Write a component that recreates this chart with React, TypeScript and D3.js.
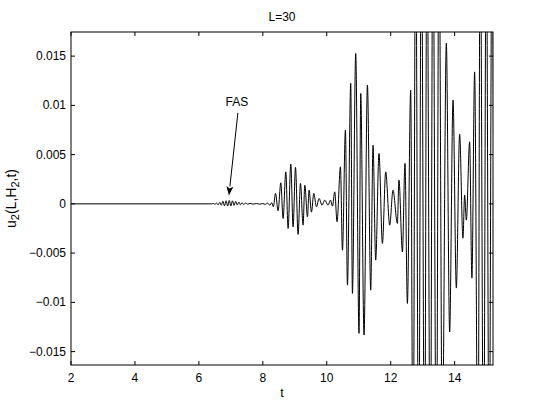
import * as d3 from "d3";
import { useEffect, useRef } from "react";

const xTicks = [2, 4, 6, 8, 10, 12, 14];
const yTicks = [-0.015, -0.01, -0.005, 0, 0.005, 0.01, 0.015];
const yTickLabels = ["\u22120.015", "\u22120.01", "\u22120.005", "0", "0.005", "0.01", "0.015"];

// signal (t, u)
const quietT = [2, 6.4];
const quietU = [0, 0];

const fasT = [6.45, 6.5, 6.55, 6.6, 6.65, 6.7, 6.75, 6.8, 6.85, 6.9, 6.95, 7.0, 7.05, 7.1, 7.15, 7.2, 7.25, 7.3, 7.35, 7.4, 7.46, 7.53, 7.6, 7.7, 7.8, 7.9, 8.0, 8.08, 8.15, 8.22, 8.28, 8.33];
const fasU = [0.00004, -0.00005, 0.00008, -0.0001, 0.00016, -0.00014, 0.00026, -0.0002, 0.00032, -0.00022, 0.00035, -0.0002, 0.00031, -0.00016, 0.00025, -0.00012, 0.00018, -0.00009, 0.00012, -0.00006, 0.00008, -0.00004, 0.00005, -0.00003, 0.00004, -0.00003, 0.00003, -0.00005, 0.00008, -0.00014, 0.00012, -0.0003];

const packet1T = [8.397, 8.478, 8.563, 8.634, 8.719, 8.791, 8.875, 8.947, 9.022, 9.103, 9.178, 9.259, 9.313, 9.397, 9.447, 9.522, 9.594, 9.678, 9.759, 9.853, 9.938, 10.041, 10.116, 10.178];
const packet1U = [0.00106, -0.0007, 0.00214, -0.00148, 0.00325, -0.00249, 0.00404, -0.00233, 0.0037, -0.0031, 0.00208, -0.00216, 0.0019, -0.00131, 0.0014, -0.00084, 0.00106, -0.0003, 0.00055, -0.00013, 0.00038, -0.00013, 0.00038, -0.00023];

const packet2T = [10.25, 10.322, 10.428, 10.491, 10.584, 10.647, 10.75, 10.803, 10.906, 11.009, 11.063, 11.166, 11.272, 11.375, 11.447, 11.531, 11.634, 11.741, 11.844, 11.969, 12.072, 12.209, 12.259, 12.366, 12.447, 12.522, 12.625];
const packet2U = [0.00122, -0.00182, 0.00376, -0.0047, 0.00749, -0.00825, 0.01223, -0.00909, 0.01527, -0.01315, 0.01121, -0.01332, 0.01206, -0.00876, 0.00596, -0.00571, 0.00512, -0.00402, 0.00325, -0.00216, 0.0014, -0.00198, 0.00241, -0.00487, 0.00411, -0.01011, 0.01155];

const packet3T = [12.7, 12.78, 12.875, 12.96, 13.06, 13.134, 13.24, 13.32, 13.43, 13.51, 13.615, 13.74, 13.844, 13.95, 14.053, 14.156, 14.26, 14.313, 14.366, 14.469, 14.54, 14.625, 14.73, 14.8, 14.906, 14.99, 15.08, 15.17, 15.25];
const packet3U = [-0.03, 0.03, -0.03, 0.03, -0.03, 0.03, -0.03, 0.03, -0.03, 0.03, -0.025, 0.0163, -0.013, 0.01053, -0.00855, 0.00708, -0.00348, 0.00089, -0.00165, 0.0063, -0.00754, 0.0134, -0.03, 0.03, -0.03, 0.03, -0.03, 0.03, -0.03];

const signalT = [...quietT, ...fasT, ...packet1T, ...packet2T, ...packet3T];
const signalU = [...quietU, ...fasU, ...packet1U, ...packet2U, ...packet3U];

const W = 545;
const H = 410;
const left = 71;
const right = 493;
const top = 32;
const bottom = 365;
const font = "'Liberation Sans', Arial, Helvetica, sans-serif";

export default function App() {
  const ref = useRef<HTMLDivElement>(null);

  useEffect(() => {
    d3.select(ref.current).select("svg").remove();

    const svg = d3
      .select(ref.current)
      .append("svg")
      .attr("width", W)
      .attr("height", H)
      .attr("viewBox", [0, 0, W, H])
      .style("position", "absolute")
      .style("left", "0px")
      .style("top", "0px")
      .style("background", "#fff")
      .style("font-family", font);

    const x = d3.scaleLinear().domain([2, 15.2]).range([left, right]);
    const y = d3.scaleLinear().domain([-0.01636, 0.01745]).range([bottom, top]);

    svg
      .append("defs")
      .append("clipPath")
      .attr("id", "plot-clip")
      .append("rect")
      .attr("x", left)
      .attr("y", top)
      .attr("width", right - left)
      .attr("height", bottom - top);

    const points: [number, number][] = signalT.map((t, i) => [t, signalU[i]]);
    const line = d3
      .line<[number, number]>()
      .x((d) => x(d[0]))
      .y((d) => y(d[1]))
      .curve(d3.curveMonotoneX);

    svg
      .append("path")
      .attr("clip-path", "url(#plot-clip)")
      .attr("d", line(points))
      .attr("fill", "none")
      .attr("stroke", "#000")
      .attr("stroke-width", 1);

    // box
    svg
      .append("rect")
      .attr("x", left)
      .attr("y", top)
      .attr("width", right - left)
      .attr("height", bottom - top)
      .attr("fill", "none")
      .attr("stroke", "#000")
      .attr("stroke-width", 1);

    const tickLen = 4;
    const g = svg.append("g").attr("stroke", "#000").attr("stroke-width", 1);
    xTicks.forEach((t) => {
      g.append("line").attr("x1", x(t)).attr("x2", x(t)).attr("y1", bottom).attr("y2", bottom - tickLen);
      g.append("line").attr("x1", x(t)).attr("x2", x(t)).attr("y1", top).attr("y2", top + tickLen);
    });
    yTicks.forEach((v) => {
      g.append("line").attr("x1", left).attr("x2", left + tickLen).attr("y1", y(v)).attr("y2", y(v));
      g.append("line").attr("x1", right).attr("x2", right - tickLen).attr("y1", y(v)).attr("y2", y(v));
    });

    svg
      .append("g")
      .selectAll("text")
      .data(xTicks)
      .join("text")
      .attr("x", (d) => x(d))
      .attr("y", bottom + 17)
      .attr("text-anchor", "middle")
      .attr("font-size", 12)
      .text((d) => String(d));

    svg
      .append("g")
      .selectAll("text")
      .data(yTicks)
      .join("text")
      .attr("x", left - 5)
      .attr("y", (d) => y(d) + 4)
      .attr("text-anchor", "end")
      .attr("font-size", 12)
      .text((d, i) => yTickLabels[i]);

    svg
      .append("text")
      .attr("x", (left + right) / 2)
      .attr("y", 21)
      .attr("text-anchor", "middle")
      .attr("font-size", 12)
      .text("L=30");

    svg
      .append("text")
      .attr("x", (left + right) / 2)
      .attr("y", 397)
      .attr("text-anchor", "middle")
      .attr("font-size", 12.5)
      .text("t");

    const yl = svg
      .append("text")
      .attr("transform", `translate(16,${(top + bottom) / 2}) rotate(-90)`)
      .attr("text-anchor", "middle")
      .attr("font-size", 14);
    yl.append("tspan").text("u");
    yl.append("tspan").attr("dy", 3).attr("font-size", 11).text("2");
    yl.append("tspan").attr("dy", -3).text("(L,H");
    yl.append("tspan").attr("dy", 3).attr("font-size", 11).text("2");
    yl.append("tspan").attr("dy", -3).text(",t)");

    // FAS annotation
    const x0 = x(7.22), y0 = y(0.00924);
    const x1 = x(6.94), y1 = y(0.00086);
    const ang = Math.atan2(y1 - y0, x1 - x0);
    const headL = 9, headW = 3.5;
    const bx = x1 - headL * Math.cos(ang), by = y1 - headL * Math.sin(ang);
    svg
      .append("line")
      .attr("x1", x0)
      .attr("y1", y0)
      .attr("x2", bx)
      .attr("y2", by)
      .attr("stroke", "#000")
      .attr("stroke-width", 1);
    svg
      .append("path")
      .attr(
        "d",
        `M${x1},${y1}L${bx - headW * Math.sin(ang)},${by + headW * Math.cos(ang)}L${bx + 2 * Math.cos(ang)},${by + 2 * Math.sin(ang)}L${bx + headW * Math.sin(ang)},${by - headW * Math.cos(ang)}Z`
      )
      .attr("fill", "#000");
    svg
      .append("text")
      .attr("x", x(7.19))
      .attr("y", y(0.01035) + 4)
      .attr("text-anchor", "middle")
      .attr("font-size", 12)
      .text("FAS");
  }, []);

  return <div ref={ref}></div>;
}
